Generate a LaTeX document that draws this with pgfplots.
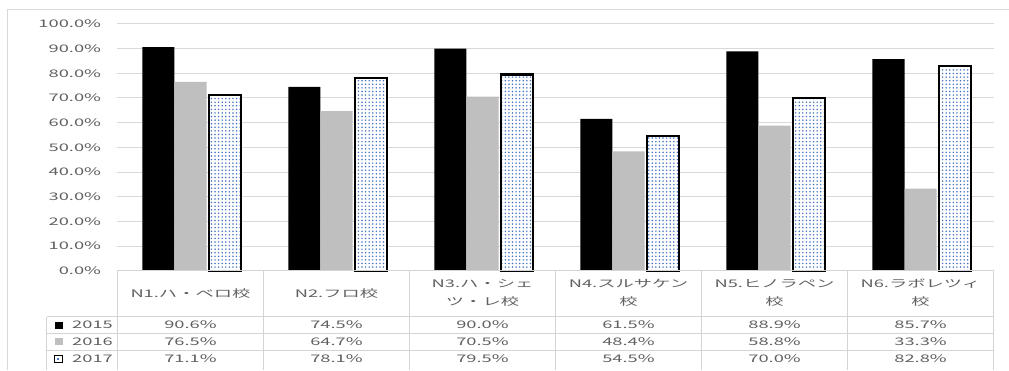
\documentclass[border=0pt]{standalone}
\usepackage{pgfplots}
\pgfplotsset{compat=1.18}
\usepackage{fontspec}
\setmainfont{Noto Sans CJK JP}[FakeStretch=1.75]
\usetikzlibrary{patterns.meta}
\definecolor{txt}{HTML}{606060}
\definecolor{gridc}{HTML}{D9D9D9}
\definecolor{tline}{HTML}{D4D4D4}
\definecolor{g16}{HTML}{BFBFBF}
\definecolor{dotblue}{HTML}{4472C4}
\tikzset{dotfill/.style={pattern={Dots[distance=3.6pt, radius=0.85pt]}, pattern color=dotblue, preaction={fill=white}}}
\begin{document}
\begin{tikzpicture}[font=\fontsize{10.5}{18}\selectfont]
\begin{axis}[
  scale only axis, width=880pt, height=248pt,
  xmin=-0.5, xmax=5.5, ymin=0, ymax=100,
  ybar=0pt, bar width=0.22,
  axis line style={draw=none},
  xtick=\empty,
  ytick={0,10,...,100},
  ymajorgrids, grid style={gridc, line width=1pt},
  major tick length=0pt,
  yticklabel={\pgfmathprintnumber[fixed,fixed zerofill,precision=1]{\tick}\%},
  /pgf/number format/assume math mode=true,
  yticklabel style={text=txt, xshift=-13pt},
  clip=false,
]
\addplot[fill=black, draw=none] coordinates {(0,90.6)(1,74.5)(2,90.0)(3,61.5)(4,88.9)(5,85.7)};
\addplot[fill=g16, draw=none] coordinates {(0,76.5)(1,64.7)(2,70.5)(3,48.4)(4,58.8)(5,33.3)};
\addplot[draw=black, line width=2.2pt, dotfill, bar shift=0.235] coordinates {(0,71.1)(1,78.1)(2,79.5)(3,54.5)(4,70.0)(5,82.8)};
\end{axis}
% outer frame
\draw[gridc, line width=1pt] (-110pt,-100pt) -- (-110pt,262pt) -- (895pt,262pt);
% table lines
\begin{scope}[tline, line width=1.3pt]
\draw (0pt,0pt) -- (880pt,0pt);
\foreach \y in {-46,-63,-80} \draw (-71pt,\y pt) -- (880pt,\y pt);
\foreach \i in {0,...,6} \draw ({\i*146.667pt},0pt) -- ({\i*146.667pt},-100pt);
\draw (-71pt,-46pt) -- (-71pt,-100pt);
\end{scope}
% header labels
\begin{scope}[text=txt]
\node[align=center] at ({0.5*146.667pt},-23pt) {N1.ハ・ベロ校};
\node[align=center] at ({1.5*146.667pt},-23pt) {N2.フロ校};
\node[align=center] at ({2.5*146.667pt},-22pt) {N3.ハ・シェ\\ツ・レ校};
\node[align=center] at ({3.5*146.667pt},-22pt) {N4.スルサケン\\校};
\node[align=center] at ({4.5*146.667pt},-22pt) {N5.ヒノラペン\\校};
\node[align=center] at ({5.5*146.667pt},-22pt) {N6.ラボレツィ\\校};
% values
\foreach \v [count=\i from 0] in {90.6\%,74.5\%,90.0\%,61.5\%,88.9\%,85.7\%}
  \node at ({(\i+0.5)*146.667pt},-54.5pt) {\v};
\foreach \v [count=\i from 0] in {76.5\%,64.7\%,70.5\%,48.4\%,58.8\%,33.3\%}
  \node at ({(\i+0.5)*146.667pt},-71.5pt) {\v};
\foreach \v [count=\i from 0] in {71.1\%,78.1\%,79.5\%,54.5\%,70.0\%,82.8\%}
  \node at ({(\i+0.5)*146.667pt},-88.5pt) {\v};
% legend
\node[anchor=west] at (-49pt,-54.5pt) {2015};
\node[anchor=west] at (-49pt,-71.5pt) {2016};
\node[anchor=west] at (-49pt,-88.5pt) {2017};
\end{scope}
\fill[black] (-63pt,-58pt) rectangle (-55pt,-51pt);
\fill[g16] (-63pt,-75pt) rectangle (-55pt,-68pt);
\draw[black, line width=1pt, fill=white] (-63pt,-92pt) rectangle (-55pt,-85pt);
\fill[dotblue] (-60.5pt,-89.5pt) rectangle (-59pt,-88pt);
\useasboundingbox (-118pt,-97pt) rectangle (891pt,272pt);
\end{tikzpicture}
\end{document}
